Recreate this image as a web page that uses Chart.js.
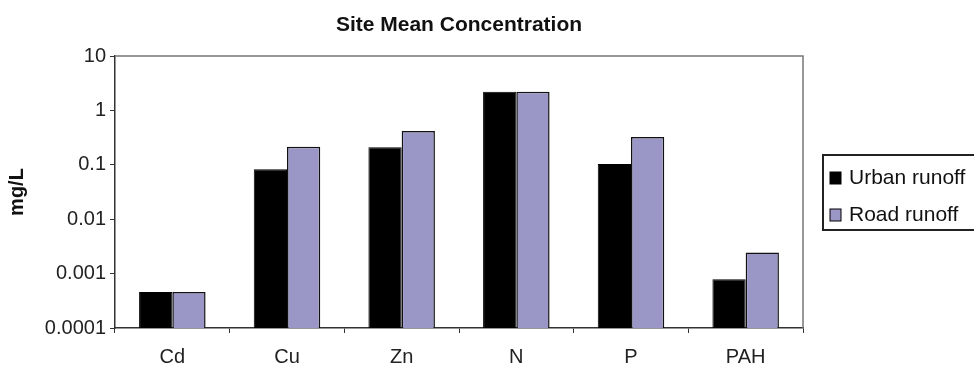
<!DOCTYPE html>
<html>
<head>
<meta charset="utf-8">
<script src="https://cdn.jsdelivr.net/npm/chart.js@4"></script>
<style>
  body { margin: 0; background: #fff; }
  canvas { display: block; }
</style>
</head>
<body>
<canvas id="myChart" width="974" height="368"></canvas>
<script>
const categories = ["Cd", "Cu", "Zn", "N", "P", "PAH"];
const urbanRunoff = [0.00046, 0.083, 0.21, 2.2, 0.103, 0.00079];
const roadRunoff = [0.00046, 0.215, 0.42, 2.2, 0.325, 0.00245];
const yTickValues = [0.0001, 0.001, 0.01, 0.1, 1, 10];
const yTickLabels = ["0.0001", "0.001", "0.01", "0.1", "1", "10"];
const chartTitle = "Site Mean Concentration";

const fontFamily = "'Liberation Sans', Arial, sans-serif";

// title centred over the plot area, frame on top and right
const frameAndTitle = {
  id: "frameAndTitle",
  afterDraw(chart) {
    const { ctx, chartArea } = chart;
    ctx.save();
    ctx.strokeStyle = "#777";
    ctx.lineWidth = 1.5;
    ctx.beginPath();
    ctx.moveTo(chartArea.left, chartArea.top);
    ctx.lineTo(chartArea.right, chartArea.top);
    ctx.lineTo(chartArea.right, chartArea.bottom);
    ctx.stroke();

    ctx.fillStyle = "#111";
    ctx.font = "bold 21px " + fontFamily;
    ctx.textAlign = "center";
    ctx.textBaseline = "middle";
    ctx.fillText(chartTitle, (chartArea.left + chartArea.right) / 2, 25);
    ctx.restore();
  },
};

// boxed legend to the right, like the spreadsheet chart
const boxLegend = {
  id: "boxLegend",
  afterDraw(chart) {
    const { ctx } = chart;
    const x = 823, y = 155, h = 75;
    ctx.save();
    ctx.strokeStyle = "#222";
    ctx.lineWidth = 2;
    ctx.strokeRect(x, y, 200, h);
    ctx.font = "21px " + fontFamily;
    ctx.textBaseline = "middle";
    chart.data.datasets.forEach((ds, i) => {
      const cy = y + 23 + i * 37;
      ctx.fillStyle = ds.backgroundColor;
      ctx.fillRect(x + 7, cy - 6, 11, 12);
      ctx.strokeStyle = "#000";
      ctx.lineWidth = 1;
      ctx.strokeRect(x + 7, cy - 6, 11, 12);
      ctx.fillStyle = "#111";
      ctx.fillText(ds.label, x + 26, cy);
    });
    ctx.restore();
  },
};

var ctx = document.getElementById("myChart").getContext("2d");
new Chart(ctx, {
  type: "bar",
  data: {
    labels: categories,
    datasets: [
      {
        label: "Urban runoff",
        data: urbanRunoff,
        backgroundColor: "#000000",
        borderColor: "#000000",
        borderWidth: 1,
      },
      {
        label: "Road runoff",
        data: roadRunoff,
        backgroundColor: "#9a97c6",
        borderColor: "#111",
        borderWidth: 1.5,
      },
    ],
  },
  options: {
    responsive: false,
    animation: false,
    layout: { padding: { left: 0, right: 171, top: 56, bottom: 0 } },
    datasets: {
      bar: { categoryPercentage: 0.58, barPercentage: 1.0 },
    },
    plugins: {
      legend: { display: false },
      tooltip: { enabled: false },
      title: { display: false },
    },
    scales: {
      x: {
        afterFit(scale) {
          scale.height = 40;
        },
        grid: {
          drawOnChartArea: false,
          tickLength: 5,
          color: "#333",
        },
        border: { color: "#333", width: 1.5 },
        ticks: {
          color: "#222",
          padding: 12,
          font: { family: fontFamily, size: 20 },
        },
      },
      y: {
        type: "logarithmic",
        min: 0.0001,
        max: 10,
        afterFit(scale) {
          scale.width = 115;
        },
        afterBuildTicks(scale) {
          scale.ticks = yTickValues.map((v) => ({ value: v }));
        },
        grid: {
          drawOnChartArea: false,
          tickLength: 5,
          color: "#333",
        },
        border: { color: "#333", width: 1.5 },
        ticks: {
          color: "#222",
          padding: 4,
          font: { family: fontFamily, size: 20 },
          callback: (value) => {
            const i = yTickValues.findIndex((v) => Math.abs(v - value) / v < 1e-6);
            return i >= 0 ? yTickLabels[i] : "";
          },
        },
        title: {
          display: true,
          text: "mg/L",
          color: "#111",
          font: { family: fontFamily, size: 20, weight: "bold" },
          padding: { top: 5, bottom: 0 },
        },
      },
    },
  },
  plugins: [frameAndTitle, boxLegend],
});
</script>
</body>
</html>
